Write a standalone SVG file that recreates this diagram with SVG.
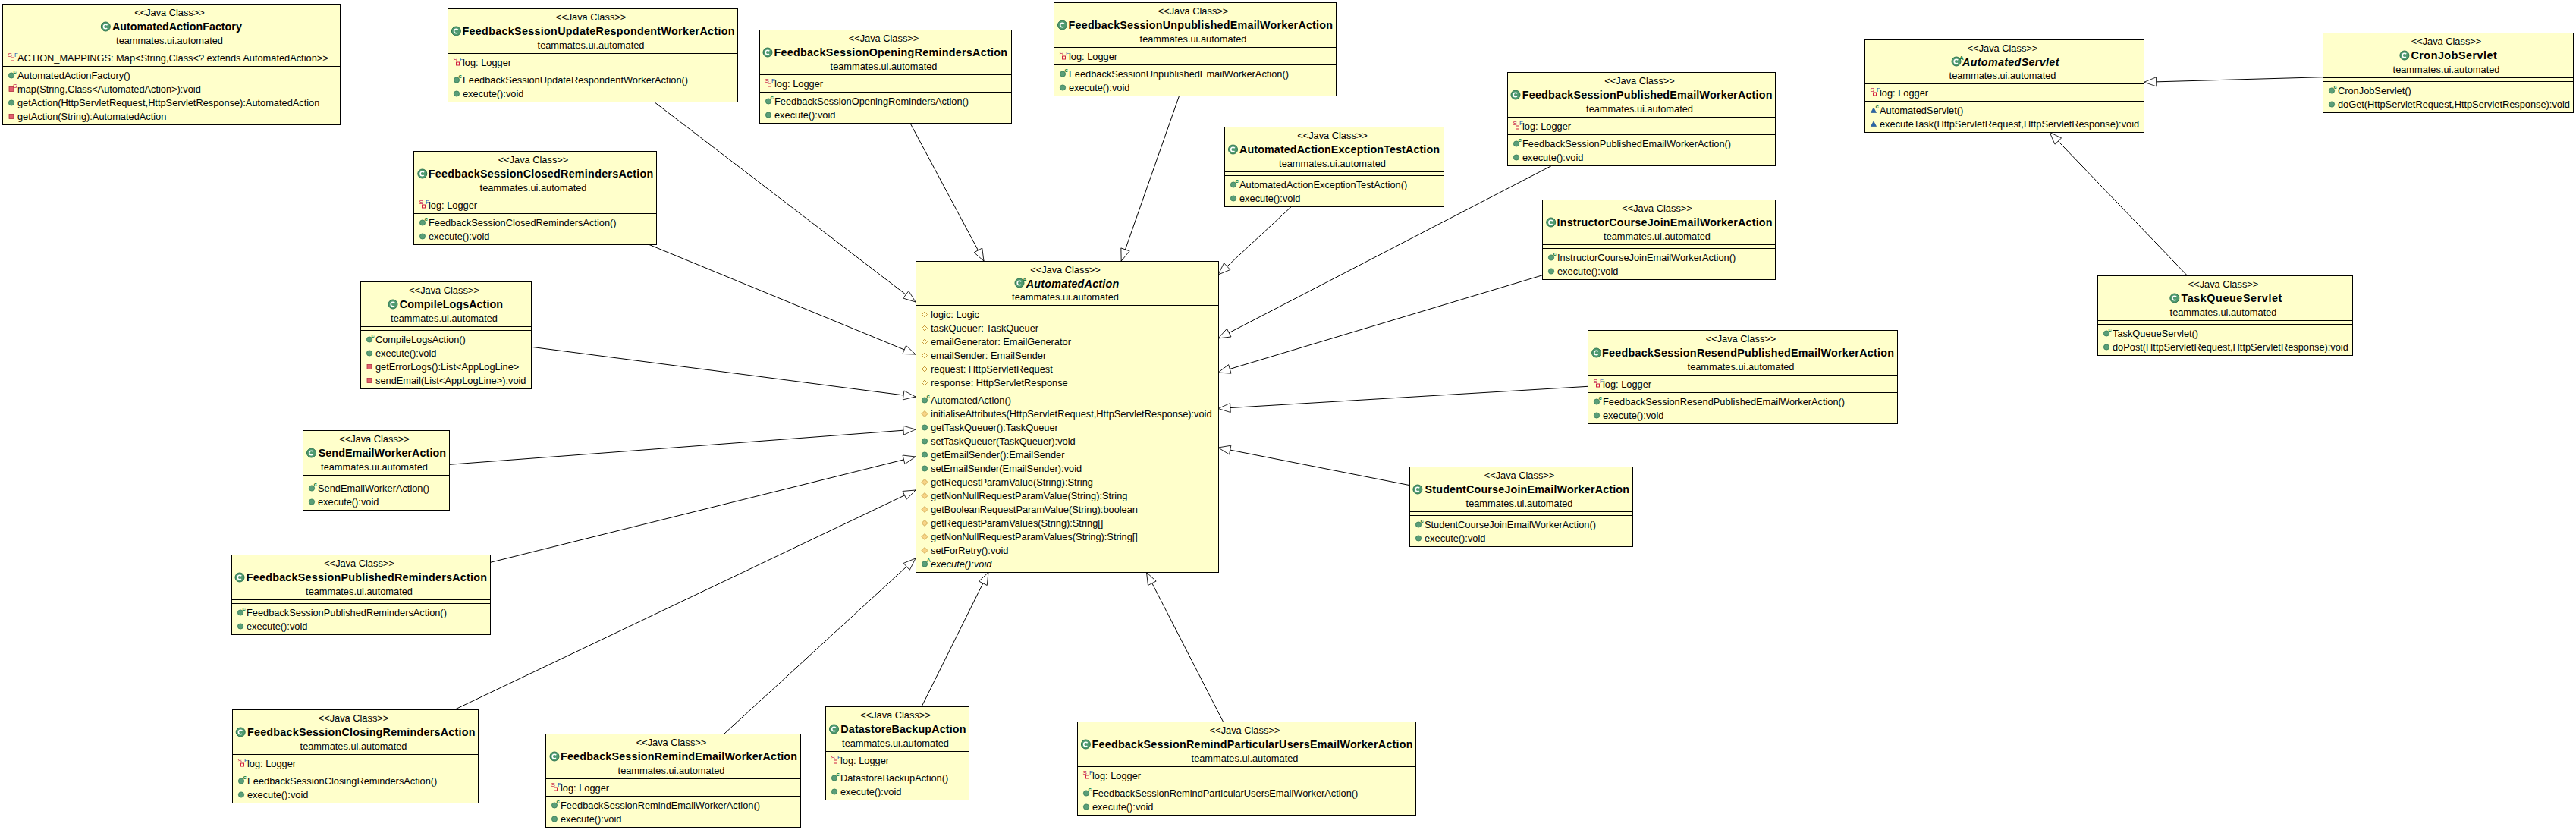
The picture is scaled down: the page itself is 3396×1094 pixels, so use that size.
<svg xmlns="http://www.w3.org/2000/svg" width="3396" height="1094" viewBox="0 0 3396 1094">
<style>
text{font-family:"Liberation Sans",Arial,sans-serif;font-size:12.8px;fill:#000}
.m{text-anchor:middle}
.t{font-size:14.3px;font-weight:bold}
.ai{font-style:italic}
.b{fill:#ffffcb;stroke:#000;stroke-width:1}
.d{fill:none;stroke:#000;stroke-width:1}
.c{stroke:#000;stroke-width:1;fill:none;marker-end:url(#gen)}
.sup{font-size:8px;font-weight:bold}
</style>
<defs>
<marker id="gen" markerUnits="userSpaceOnUse" markerWidth="20" markerHeight="16" refX="17" refY="7" orient="auto"><path d="M1 1L17 7L1 13Z" fill="#fff" stroke="#000" stroke-width=".8"/></marker>
<g id="ci"><circle r="6" fill="#4f9a70" stroke="#2d7450" stroke-width="1"/><circle r="2.8" fill="none" stroke="#fff" stroke-width="1.6" stroke-dasharray="13.2 4.4" stroke-dashoffset="-2.2"/></g>
<g id="ca"><use href="#ci"/><text class="sup" x="4" y="-2" style="fill:#1c7a46">A</text></g>
<circle id="ip" r="3.6" fill="#5a9e78" stroke="#2f7a55" stroke-width=".8"/>
<g id="ic"><use href="#ip"/><text class="sup" x="2.5" y="-3" style="fill:#107a3a">c</text></g>
<g id="ia"><use href="#ip"/><text class="sup" x="2.5" y="-3" style="fill:#107a3a;font-weight:normal">A</text></g>
<path id="ido" d="M0-4L4 0L0 4L-4 0Z" fill="#f7d488" stroke="#c89a3c" stroke-width=".8"/>
<path id="idh" d="M0-3.5L3.5 0L0 3.5L-3.5 0Z" fill="#ffffcb" stroke="#c89a3c" stroke-width="1"/>
<rect id="ir" x="-3" y="-3" width="6" height="6" fill="#e0606c" stroke="#b03040" stroke-width=".8"/>
<g id="irs"><use href="#ir"/><text class="sup" x="2" y="-2" style="fill:#c00040;font-weight:normal">S</text></g>
<path id="ik" d="M0-3.5L3.6 3H-3.6Z" fill="#2a66aa" stroke="#1f4f88" stroke-width=".6"/>
<g id="ikc"><use href="#ik"/><text class="sup" x="2.5" y="-3" style="fill:#107a3a">c</text></g>
<g id="isf"><text class="sup" x="-4.5" y="-1.5" style="fill:#c00040;font-weight:normal">S</text><rect x="-0.5" y="-0.5" width="4" height="4" fill="#ffffcb" stroke="#d02040" stroke-width="1"/><text class="sup" x="4" y="-2" style="fill:#2050b0;font-weight:normal">F</text></g>
</defs>
<g id="connectors">
<line class="c" x1="862.6" y1="134.5" x2="1207" y2="398"/>
<line class="c" x1="1200" y1="162.5" x2="1297" y2="344"/>
<line class="c" x1="1554.5" y1="126.5" x2="1478.2" y2="344"/>
<line class="c" x1="1702.3" y1="272.5" x2="1606" y2="362"/>
<line class="c" x1="2045" y1="218.7" x2="1606" y2="446"/>
<line class="c" x1="2033.6" y1="362.7" x2="1606" y2="491"/>
<line class="c" x1="2093.4" y1="509.3" x2="1606" y2="538.5"/>
<line class="c" x1="1858.7" y1="639.7" x2="1606" y2="590"/>
<line class="c" x1="855.9" y1="322.5" x2="1207" y2="467"/>
<line class="c" x1="700.6" y1="457.3" x2="1207" y2="523"/>
<line class="c" x1="592.7" y1="612.3" x2="1207" y2="566"/>
<line class="c" x1="646.6" y1="741.3" x2="1207" y2="602"/>
<line class="c" x1="600" y1="935" x2="1207" y2="646"/>
<line class="c" x1="955" y1="967" x2="1207" y2="736"/>
<line class="c" x1="1215.2" y1="931" x2="1303" y2="754.5"/>
<line class="c" x1="1612.4" y1="951" x2="1511.5" y2="754.5"/>
<line class="c" x1="3062.6" y1="101.7" x2="2826.6" y2="108.3"/>
<line class="c" x1="2883.3" y1="363" x2="2702.2" y2="174.5"/>
</g>
<g id="AutomatedActionFactory" transform="translate(3,5)">
<rect class="b" x=".5" y=".5" width="445" height="159"/><path class="d" d="M0 59.5H445M0 82.5H445"/>
<text class="m" x="220.5" y="16">&lt;&lt;Java Class&gt;&gt;</text><use href="#ci" x="136.3" y="30"/><text class="t" x="144.9" y="35" textLength="171">AutomatedActionFactory</text><text class="m" x="220.5" y="53">teammates.ui.automated</text>
<use href="#isf" x="12" y="71.5"/><text x="20" y="76">ACTION_MAPPINGS: Map&lt;String,Class&lt;? extends AutomatedAction&gt;&gt;</text>
<use href="#ic" x="12" y="94.5"/><text x="20" y="99">AutomatedActionFactory()</text>
<use href="#irs" x="12" y="112.5"/><text x="20" y="117">map(String,Class&lt;AutomatedAction&gt;):void</text>
<use href="#ip" x="12" y="130.5"/><text x="20" y="135">getAction(HttpServletRequest,HttpServletResponse):AutomatedAction</text>
<use href="#ir" x="12" y="148.5"/><text x="20" y="153">getAction(String):AutomatedAction</text>
</g>
<g id="FeedbackSessionUpdateRespondentWorkerAction" transform="translate(590,11)">
<rect class="b" x=".5" y=".5" width="382" height="123"/><path class="d" d="M0 59.5H382M0 82.5H382"/>
<text class="m" x="189" y="16">&lt;&lt;Java Class&gt;&gt;</text><use href="#ci" x="11.4" y="30"/><text class="t" x="19.5" y="35" textLength="359">FeedbackSessionUpdateRespondentWorkerAction</text><text class="m" x="189" y="53">teammates.ui.automated</text>
<use href="#isf" x="12" y="71.5"/><text x="20" y="76">log: Logger</text>
<use href="#ic" x="12" y="94.5"/><text x="20" y="99">FeedbackSessionUpdateRespondentWorkerAction()</text>
<use href="#ip" x="12" y="112.5"/><text x="20" y="117">execute():void</text>
</g>
<g id="FeedbackSessionOpeningRemindersAction" transform="translate(1001,39)">
<rect class="b" x=".5" y=".5" width="332" height="123"/><path class="d" d="M0 59.5H332M0 82.5H332"/>
<text class="m" x="164" y="16">&lt;&lt;Java Class&gt;&gt;</text><use href="#ci" x="11" y="30"/><text class="t" x="19.6" y="35" textLength="307.4">FeedbackSessionOpeningRemindersAction</text><text class="m" x="164" y="53">teammates.ui.automated</text>
<use href="#isf" x="12" y="71.5"/><text x="20" y="76">log: Logger</text>
<use href="#ic" x="12" y="94.5"/><text x="20" y="99">FeedbackSessionOpeningRemindersAction()</text>
<use href="#ip" x="12" y="112.5"/><text x="20" y="117">execute():void</text>
</g>
<g id="FeedbackSessionClosedRemindersAction" transform="translate(545,199)">
<rect class="b" x=".5" y=".5" width="320" height="123"/><path class="d" d="M0 59.5H320M0 82.5H320"/>
<text class="m" x="158" y="16">&lt;&lt;Java Class&gt;&gt;</text><use href="#ci" x="11.8" y="30"/><text class="t" x="19.8" y="35" textLength="296.5">FeedbackSessionClosedRemindersAction</text><text class="m" x="158" y="53">teammates.ui.automated</text>
<use href="#isf" x="12" y="71.5"/><text x="20" y="76">log: Logger</text>
<use href="#ic" x="12" y="94.5"/><text x="20" y="99">FeedbackSessionClosedRemindersAction()</text>
<use href="#ip" x="12" y="112.5"/><text x="20" y="117">execute():void</text>
</g>
<g id="FeedbackSessionUnpublishedEmailWorkerAction" transform="translate(1389,3)">
<rect class="b" x=".5" y=".5" width="372" height="123"/><path class="d" d="M0 59.5H372M0 82.5H372"/>
<text class="m" x="184" y="16">&lt;&lt;Java Class&gt;&gt;</text><use href="#ci" x="11.5" y="30"/><text class="t" x="19.6" y="35" textLength="348.4">FeedbackSessionUnpublishedEmailWorkerAction</text><text class="m" x="184" y="53">teammates.ui.automated</text>
<use href="#isf" x="12" y="71.5"/><text x="20" y="76">log: Logger</text>
<use href="#ic" x="12" y="94.5"/><text x="20" y="99">FeedbackSessionUnpublishedEmailWorkerAction()</text>
<use href="#ip" x="12" y="112.5"/><text x="20" y="117">execute():void</text>
</g>
<g id="AutomatedActionExceptionTestAction" transform="translate(1614,167)">
<rect class="b" x=".5" y=".5" width="289" height="105"/><path class="d" d="M0 59.5H289M0 64.5H289"/>
<text class="m" x="142.5" y="16">&lt;&lt;Java Class&gt;&gt;</text><use href="#ci" x="11.5" y="30"/><text class="t" x="20" y="35" textLength="264">AutomatedActionExceptionTestAction</text><text class="m" x="142.5" y="53">teammates.ui.automated</text>
<use href="#ic" x="12" y="76.5"/><text x="20" y="81">AutomatedActionExceptionTestAction()</text>
<use href="#ip" x="12" y="94.5"/><text x="20" y="99">execute():void</text>
</g>
<g id="FeedbackSessionPublishedEmailWorkerAction" transform="translate(1987,95)">
<rect class="b" x=".5" y=".5" width="353" height="123"/><path class="d" d="M0 59.5H353M0 82.5H353"/>
<text class="m" x="174.5" y="16">&lt;&lt;Java Class&gt;&gt;</text><use href="#ci" x="11" y="30"/><text class="t" x="19.8" y="35" textLength="329.7">FeedbackSessionPublishedEmailWorkerAction</text><text class="m" x="174.5" y="53">teammates.ui.automated</text>
<use href="#isf" x="12" y="71.5"/><text x="20" y="76">log: Logger</text>
<use href="#ic" x="12" y="94.5"/><text x="20" y="99">FeedbackSessionPublishedEmailWorkerAction()</text>
<use href="#ip" x="12" y="112.5"/><text x="20" y="117">execute():void</text>
</g>
<g id="InstructorCourseJoinEmailWorkerAction" transform="translate(2033,263)">
<rect class="b" x=".5" y=".5" width="307" height="105"/><path class="d" d="M0 59.5H307M0 64.5H307"/>
<text class="m" x="151.5" y="16">&lt;&lt;Java Class&gt;&gt;</text><use href="#ci" x="11.7" y="30"/><text class="t" x="19.6" y="35" textLength="283.9">InstructorCourseJoinEmailWorkerAction</text><text class="m" x="151.5" y="53">teammates.ui.automated</text>
<use href="#ic" x="12" y="76.5"/><text x="20" y="81">InstructorCourseJoinEmailWorkerAction()</text>
<use href="#ip" x="12" y="94.5"/><text x="20" y="99">execute():void</text>
</g>
<g id="FeedbackSessionResendPublishedEmailWorkerAction" transform="translate(2093,435)">
<rect class="b" x=".5" y=".5" width="408" height="123"/><path class="d" d="M0 59.5H408M0 82.5H408"/>
<text class="m" x="202" y="16">&lt;&lt;Java Class&gt;&gt;</text><use href="#ci" x="11.6" y="30"/><text class="t" x="19" y="35" textLength="385">FeedbackSessionResendPublishedEmailWorkerAction</text><text class="m" x="202" y="53">teammates.ui.automated</text>
<use href="#isf" x="12" y="71.5"/><text x="20" y="76">log: Logger</text>
<use href="#ic" x="12" y="94.5"/><text x="20" y="99">FeedbackSessionResendPublishedEmailWorkerAction()</text>
<use href="#ip" x="12" y="112.5"/><text x="20" y="117">execute():void</text>
</g>
<g id="StudentCourseJoinEmailWorkerAction" transform="translate(1858,615)">
<rect class="b" x=".5" y=".5" width="294" height="105"/><path class="d" d="M0 59.5H294M0 64.5H294"/>
<text class="m" x="145" y="16">&lt;&lt;Java Class&gt;&gt;</text><use href="#ci" x="10.9" y="30"/><text class="t" x="20.6" y="35" textLength="269.4">StudentCourseJoinEmailWorkerAction</text><text class="m" x="145" y="53">teammates.ui.automated</text>
<use href="#ic" x="12" y="76.5"/><text x="20" y="81">StudentCourseJoinEmailWorkerAction()</text>
<use href="#ip" x="12" y="94.5"/><text x="20" y="99">execute():void</text>
</g>
<g id="AutomatedAction" transform="translate(1207,344)">
<rect class="b" x=".5" y=".5" width="399" height="410"/><path class="d" d="M0 58.5H399M0 171.5H399"/>
<text class="m" x="197.5" y="16">&lt;&lt;Java Class&gt;&gt;</text><use href="#ca" x="137" y="29"/><text class="t ai" x="145.7" y="35" textLength="122.6">AutomatedAction</text><text class="m" x="197.5" y="52">teammates.ui.automated</text>
<use href="#idh" x="12" y="70.5"/><text x="20" y="75">logic: Logic</text>
<use href="#idh" x="12" y="88.5"/><text x="20" y="93">taskQueuer: TaskQueuer</text>
<use href="#idh" x="12" y="106.5"/><text x="20" y="111">emailGenerator: EmailGenerator</text>
<use href="#idh" x="12" y="124.5"/><text x="20" y="129">emailSender: EmailSender</text>
<use href="#idh" x="12" y="142.5"/><text x="20" y="147">request: HttpServletRequest</text>
<use href="#idh" x="12" y="160.5"/><text x="20" y="165">response: HttpServletResponse</text>
<use href="#ic" x="12" y="183.5"/><text x="20" y="188">AutomatedAction()</text>
<use href="#ido" x="12" y="201.5"/><text x="20" y="206">initialiseAttributes(HttpServletRequest,HttpServletResponse):void</text>
<use href="#ip" x="12" y="219.5"/><text x="20" y="224">getTaskQueuer():TaskQueuer</text>
<use href="#ip" x="12" y="237.5"/><text x="20" y="242">setTaskQueuer(TaskQueuer):void</text>
<use href="#ip" x="12" y="255.5"/><text x="20" y="260">getEmailSender():EmailSender</text>
<use href="#ip" x="12" y="273.5"/><text x="20" y="278">setEmailSender(EmailSender):void</text>
<use href="#ido" x="12" y="291.5"/><text x="20" y="296">getRequestParamValue(String):String</text>
<use href="#ido" x="12" y="309.5"/><text x="20" y="314">getNonNullRequestParamValue(String):String</text>
<use href="#ido" x="12" y="327.5"/><text x="20" y="332">getBooleanRequestParamValue(String):boolean</text>
<use href="#ido" x="12" y="345.5"/><text x="20" y="350">getRequestParamValues(String):String[]</text>
<use href="#ido" x="12" y="363.5"/><text x="20" y="368">getNonNullRequestParamValues(String):String[]</text>
<use href="#ido" x="12" y="381.5"/><text x="20" y="386">setForRetry():void</text>
<use href="#ia" x="12" y="399.5"/><text class="ai" x="20" y="404">execute():void</text>
</g>
<g id="AutomatedServlet" transform="translate(2458,52)">
<rect class="b" x=".5" y=".5" width="368" height="122"/><path class="d" d="M0 58.5H368M0 81.5H368"/>
<text class="m" x="182" y="16">&lt;&lt;Java Class&gt;&gt;</text><use href="#ca" x="121" y="29"/><text class="t ai" x="129" y="35" textLength="127.4">AutomatedServlet</text><text class="m" x="182" y="52">teammates.ui.automated</text>
<use href="#isf" x="12" y="70.5"/><text x="20" y="75">log: Logger</text>
<use href="#ikc" x="12" y="93.5"/><text x="20" y="98">AutomatedServlet()</text>
<use href="#ik" x="12" y="111.5"/><text x="20" y="116">executeTask(HttpServletRequest,HttpServletResponse):void</text>
</g>
<g id="CronJobServlet" transform="translate(3062,43)">
<rect class="b" x=".5" y=".5" width="330" height="105"/><path class="d" d="M0 59.5H330M0 64.5H330"/>
<text class="m" x="163" y="16">&lt;&lt;Java Class&gt;&gt;</text><use href="#ci" x="107.9" y="30"/><text class="t" x="116.4" y="35" textLength="113.4">CronJobServlet</text><text class="m" x="163" y="53">teammates.ui.automated</text>
<use href="#ic" x="12" y="76.5"/><text x="20" y="81">CronJobServlet()</text>
<use href="#ip" x="12" y="94.5"/><text x="20" y="99">doGet(HttpServletRequest,HttpServletResponse):void</text>
</g>
<g id="TaskQueueServlet" transform="translate(2765,363)">
<rect class="b" x=".5" y=".5" width="336" height="105"/><path class="d" d="M0 59.5H336M0 64.5H336"/>
<text class="m" x="166" y="16">&lt;&lt;Java Class&gt;&gt;</text><use href="#ci" x="101.8" y="30"/><text class="t" x="110.4" y="35" textLength="132.9">TaskQueueServlet</text><text class="m" x="166" y="53">teammates.ui.automated</text>
<use href="#ic" x="12" y="76.5"/><text x="20" y="81">TaskQueueServlet()</text>
<use href="#ip" x="12" y="94.5"/><text x="20" y="99">doPost(HttpServletRequest,HttpServletResponse):void</text>
</g>
<g id="CompileLogsAction" transform="translate(475,371)">
<rect class="b" x=".5" y=".5" width="225" height="141"/><path class="d" d="M0 59.5H225M0 64.5H225"/>
<text class="m" x="110.5" y="16">&lt;&lt;Java Class&gt;&gt;</text><use href="#ci" x="43" y="30"/><text class="t" x="51.8" y="35" textLength="136.2">CompileLogsAction</text><text class="m" x="110.5" y="53">teammates.ui.automated</text>
<use href="#ic" x="12" y="76.5"/><text x="20" y="81">CompileLogsAction()</text>
<use href="#ip" x="12" y="94.5"/><text x="20" y="99">execute():void</text>
<use href="#ir" x="12" y="112.5"/><text x="20" y="117">getErrorLogs():List&lt;AppLogLine&gt;</text>
<use href="#ir" x="12" y="130.5"/><text x="20" y="135">sendEmail(List&lt;AppLogLine&gt;):void</text>
</g>
<g id="SendEmailWorkerAction" transform="translate(399,567)">
<rect class="b" x=".5" y=".5" width="193" height="105"/><path class="d" d="M0 59.5H193M0 64.5H193"/>
<text class="m" x="94.5" y="16">&lt;&lt;Java Class&gt;&gt;</text><use href="#ci" x="11.5" y="30"/><text class="t" x="20.7" y="35" textLength="168.3">SendEmailWorkerAction</text><text class="m" x="94.5" y="53">teammates.ui.automated</text>
<use href="#ic" x="12" y="76.5"/><text x="20" y="81">SendEmailWorkerAction()</text>
<use href="#ip" x="12" y="94.5"/><text x="20" y="99">execute():void</text>
</g>
<g id="FeedbackSessionPublishedRemindersAction" transform="translate(305,731)">
<rect class="b" x=".5" y=".5" width="341" height="105"/><path class="d" d="M0 59.5H341M0 64.5H341"/>
<text class="m" x="168.5" y="16">&lt;&lt;Java Class&gt;&gt;</text><use href="#ci" x="11" y="30"/><text class="t" x="19.8" y="35" textLength="317.2">FeedbackSessionPublishedRemindersAction</text><text class="m" x="168.5" y="53">teammates.ui.automated</text>
<use href="#ic" x="12" y="76.5"/><text x="20" y="81">FeedbackSessionPublishedRemindersAction()</text>
<use href="#ip" x="12" y="94.5"/><text x="20" y="99">execute():void</text>
</g>
<g id="FeedbackSessionClosingRemindersAction" transform="translate(306,935)">
<rect class="b" x=".5" y=".5" width="324" height="123"/><path class="d" d="M0 59.5H324M0 82.5H324"/>
<text class="m" x="160" y="16">&lt;&lt;Java Class&gt;&gt;</text><use href="#ci" x="11.2" y="30"/><text class="t" x="20" y="35" textLength="300.4">FeedbackSessionClosingRemindersAction</text><text class="m" x="160" y="53">teammates.ui.automated</text>
<use href="#isf" x="12" y="71.5"/><text x="20" y="76">log: Logger</text>
<use href="#ic" x="12" y="94.5"/><text x="20" y="99">FeedbackSessionClosingRemindersAction()</text>
<use href="#ip" x="12" y="112.5"/><text x="20" y="117">execute():void</text>
</g>
<g id="FeedbackSessionRemindEmailWorkerAction" transform="translate(719,967)">
<rect class="b" x=".5" y=".5" width="336" height="123"/><path class="d" d="M0 59.5H336M0 82.5H336"/>
<text class="m" x="166" y="16">&lt;&lt;Java Class&gt;&gt;</text><use href="#ci" x="12" y="30"/><text class="t" x="20" y="35" textLength="312">FeedbackSessionRemindEmailWorkerAction</text><text class="m" x="166" y="53">teammates.ui.automated</text>
<use href="#isf" x="12" y="71.5"/><text x="20" y="76">log: Logger</text>
<use href="#ic" x="12" y="94.5"/><text x="20" y="99">FeedbackSessionRemindEmailWorkerAction()</text>
<use href="#ip" x="12" y="112.5"/><text x="20" y="117">execute():void</text>
</g>
<g id="DatastoreBackupAction" transform="translate(1088,931)">
<rect class="b" x=".5" y=".5" width="189" height="123"/><path class="d" d="M0 59.5H189M0 82.5H189"/>
<text class="m" x="92.5" y="16">&lt;&lt;Java Class&gt;&gt;</text><use href="#ci" x="11.5" y="30"/><text class="t" x="20.3" y="35" textLength="165.1">DatastoreBackupAction</text><text class="m" x="92.5" y="53">teammates.ui.automated</text>
<use href="#isf" x="12" y="71.5"/><text x="20" y="76">log: Logger</text>
<use href="#ic" x="12" y="94.5"/><text x="20" y="99">DatastoreBackupAction()</text>
<use href="#ip" x="12" y="112.5"/><text x="20" y="117">execute():void</text>
</g>
<g id="FeedbackSessionRemindParticularUsersEmailWorkerAction" transform="translate(1420,951)">
<rect class="b" x=".5" y=".5" width="446" height="123"/><path class="d" d="M0 59.5H446M0 82.5H446"/>
<text class="m" x="221" y="16">&lt;&lt;Java Class&gt;&gt;</text><use href="#ci" x="11.4" y="30"/><text class="t" x="19.6" y="35" textLength="422.9">FeedbackSessionRemindParticularUsersEmailWorkerAction</text><text class="m" x="221" y="53">teammates.ui.automated</text>
<use href="#isf" x="12" y="71.5"/><text x="20" y="76">log: Logger</text>
<use href="#ic" x="12" y="94.5"/><text x="20" y="99">FeedbackSessionRemindParticularUsersEmailWorkerAction()</text>
<use href="#ip" x="12" y="112.5"/><text x="20" y="117">execute():void</text>
</g>
</svg>
